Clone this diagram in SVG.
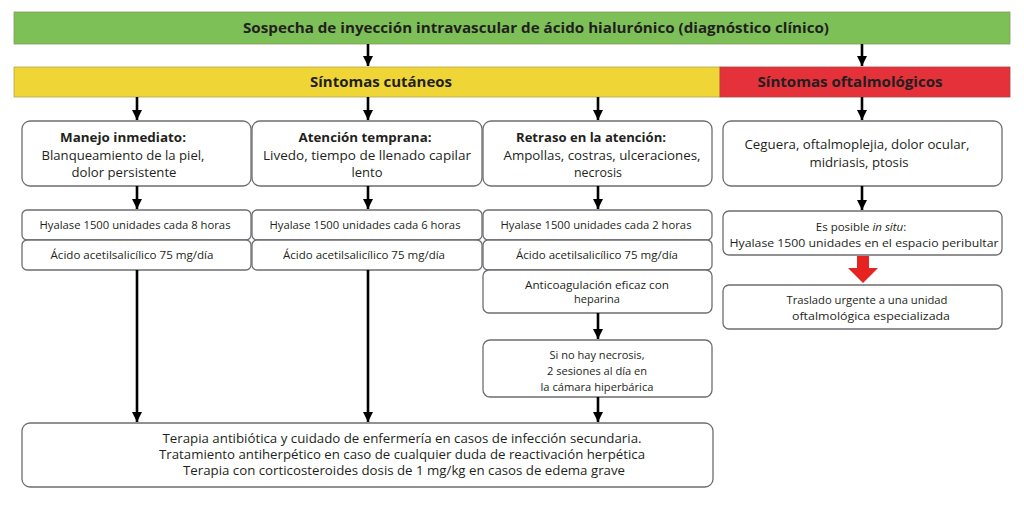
<svg xmlns="http://www.w3.org/2000/svg" width="1024" height="509" viewBox="0 0 1024 509">
<style>
  text { font-family: "Open Sans", "Liberation Sans", sans-serif; fill: #231f20; text-anchor: middle; }
  .hdr { font-weight: bold; font-size: 15px; }
  .bh { font-weight: bold; font-size: 13px; }
  .bt { font-size: 13px; }
  .st { font-size: 11.5px; }
  .box { fill: #ffffff; stroke: #6d6e71; stroke-width: 1.3; }
  .conn line { stroke: #000; stroke-width: 2.6; marker-end: url(#ah); }
</style>
<defs>
  <marker id="ah" markerUnits="userSpaceOnUse" markerWidth="11" markerHeight="10" refX="10" refY="5" orient="auto">
    <path d="M0,0 L10,5 L0,10 z" fill="#000"/>
  </marker>
</defs>
<rect width="1024" height="509" fill="#ffffff"/>

<g id="n-title">
  <rect x="14" y="12" width="996" height="32" fill="#7cc057" stroke="#8a9a5b" stroke-width="0.8"/>
  <text class="hdr" x="536" y="33" textLength="586" lengthAdjust="spacingAndGlyphs">Sospecha de inyección intravascular de ácido hialurónico (diagnóstico clínico)</text>
</g>

<g id="n-cutaneos">
  <rect x="14" y="67" width="706" height="30" fill="#efd535" stroke="#b7a64a" stroke-width="0.8"/>
  <text class="hdr" x="381" y="87" textLength="142" lengthAdjust="spacingAndGlyphs">Síntomas cutáneos</text>
</g>

<g id="n-oftalmo">
  <rect x="720" y="67" width="290" height="30" fill="#e5323a" stroke="#b04040" stroke-width="0.8"/>
  <text class="hdr" x="850" y="87" textLength="185" lengthAdjust="spacingAndGlyphs">Síntomas oftalmológicos</text>
</g>

<g id="n-manejo">
  <rect class="box" x="22" y="121" width="229" height="65" rx="8"/>
  <text class="bh" x="123" y="142" textLength="126" lengthAdjust="spacingAndGlyphs">Manejo inmediato:</text>
  <text class="bt" x="123" y="160" textLength="163" lengthAdjust="spacingAndGlyphs">Blanqueamiento de la piel,</text>
  <text class="bt" x="124" y="177" textLength="105" lengthAdjust="spacingAndGlyphs">dolor persistente</text>
</g>

<g id="n-temprana">
  <rect class="box" x="252" y="121" width="230" height="65" rx="8"/>
  <text class="bh" x="365" y="142" textLength="133" lengthAdjust="spacingAndGlyphs">Atención temprana:</text>
  <text class="bt" x="367" y="160" textLength="208" lengthAdjust="spacingAndGlyphs">Livedo, tiempo de llenado capilar</text>
  <text class="bt" x="367" y="177" textLength="31" lengthAdjust="spacingAndGlyphs">lento</text>
</g>

<g id="n-retraso">
  <rect class="box" x="483" y="121" width="229" height="65" rx="8"/>
  <text class="bh" x="591" y="142" textLength="150" lengthAdjust="spacingAndGlyphs">Retraso en la atención:</text>
  <text class="bt" x="602" y="160" textLength="197" lengthAdjust="spacingAndGlyphs">Ampollas, costras, ulceraciones,</text>
  <text class="bt" x="598" y="177" textLength="48" lengthAdjust="spacingAndGlyphs">necrosis</text>
</g>

<g id="n-ceguera">
  <rect class="box" x="723" y="121" width="279" height="65" rx="8"/>
  <text class="bt" x="857" y="149" textLength="225" lengthAdjust="spacingAndGlyphs">Ceguera, oftalmoplejia, dolor ocular,</text>
  <text class="bt" x="859" y="167" textLength="99" lengthAdjust="spacingAndGlyphs">midriasis, ptosis</text>
</g>

<g id="n-hy8">
  <rect class="box" x="22" y="210" width="229" height="30" rx="5"/>
  <text class="st" x="135" y="229" textLength="191" lengthAdjust="spacingAndGlyphs">Hyalase 1500 unidades cada 8 horas</text>
</g>
<g id="n-ac1">
  <rect class="box" x="22" y="240" width="229" height="30" rx="5"/>
  <text class="st" x="132" y="259" textLength="163" lengthAdjust="spacingAndGlyphs">Ácido acetilsalicílico 75 mg/día</text>
</g>

<g id="n-hy6">
  <rect class="box" x="252" y="210" width="230" height="30" rx="5"/>
  <text class="st" x="365" y="229" textLength="191" lengthAdjust="spacingAndGlyphs">Hyalase 1500 unidades cada 6 horas</text>
</g>
<g id="n-ac2">
  <rect class="box" x="252" y="240" width="230" height="30" rx="5"/>
  <text class="st" x="364" y="259" textLength="162" lengthAdjust="spacingAndGlyphs">Ácido acetilsalicílico 75 mg/día</text>
</g>

<g id="n-hy2">
  <rect class="box" x="483" y="210" width="229" height="30" rx="5"/>
  <text class="st" x="596" y="229" textLength="191" lengthAdjust="spacingAndGlyphs">Hyalase 1500 unidades cada 2 horas</text>
</g>
<g id="n-ac3">
  <rect class="box" x="483" y="240" width="229" height="30" rx="5"/>
  <text class="st" x="597" y="259" textLength="162" lengthAdjust="spacingAndGlyphs">Ácido acetilsalicílico 75 mg/día</text>
</g>
<g id="n-anticoag">
  <rect class="box" x="483" y="270" width="229" height="43" rx="6"/>
  <text class="st" x="597" y="289" textLength="144" lengthAdjust="spacingAndGlyphs">Anticoagulación eficaz con</text>
  <text class="st" x="597" y="303" textLength="46" lengthAdjust="spacingAndGlyphs">heparina</text>
</g>
<g id="n-hiperbarica">
  <rect class="box" x="483" y="340" width="229" height="57" rx="7"/>
  <text class="st" x="597" y="359" textLength="95" lengthAdjust="spacingAndGlyphs">Si no hay necrosis,</text>
  <text class="st" x="597" y="375" textLength="100" lengthAdjust="spacingAndGlyphs">2 sesiones al día en</text>
  <text class="st" x="597" y="391" textLength="113" lengthAdjust="spacingAndGlyphs">la cámara hiperbárica</text>
</g>

<g id="n-insitu">
  <rect class="box" x="723" y="211" width="279" height="44" rx="6"/>
  <text class="st" x="861" y="231">Es posible <tspan font-style="italic">in situ</tspan>:</text>
  <text class="st" x="864" y="247" textLength="269" lengthAdjust="spacingAndGlyphs">Hyalase 1500 unidades en el espacio peribultar</text>
</g>
<g id="n-traslado">
  <rect class="box" x="723" y="285" width="279" height="44" rx="6"/>
  <text class="st" x="867" y="304" textLength="161" lengthAdjust="spacingAndGlyphs">Traslado urgente a una unidad</text>
  <text class="st" x="871" y="320" textLength="158" lengthAdjust="spacingAndGlyphs">oftalmológica especializada</text>
</g>

<g id="n-terapia">
  <rect class="box" x="22" y="423" width="691" height="64" rx="8"/>
  <text class="bt" x="402" y="443" textLength="479" lengthAdjust="spacingAndGlyphs">Terapia antibiótica y cuidado de enfermería en casos de infección secundaria.</text>
  <text class="bt" x="402" y="459" textLength="486" lengthAdjust="spacingAndGlyphs">Tratamiento antiherpético en caso de cualquier duda de reactivación herpética</text>
  <text class="bt" x="404" y="475" textLength="442" lengthAdjust="spacingAndGlyphs">Terapia con corticosteroides dosis de 1 mg/kg en casos de edema grave</text>
</g>

<g id="connectors" class="conn">
  <line x1="368" y1="44" x2="368" y2="66"/>
  <line x1="862" y1="44" x2="862" y2="66"/>
  <line x1="137" y1="97" x2="137" y2="120"/>
  <line x1="368" y1="97" x2="368" y2="120"/>
  <line x1="598" y1="97" x2="598" y2="120"/>
  <line x1="862" y1="97" x2="862" y2="120"/>
  <line x1="137" y1="186" x2="137" y2="209"/>
  <line x1="368" y1="186" x2="368" y2="209"/>
  <line x1="598" y1="186" x2="598" y2="209"/>
  <line x1="862" y1="186" x2="862" y2="210"/>
  <line x1="598" y1="313" x2="598" y2="339"/>
  <line x1="137" y1="270" x2="137" y2="422"/>
  <line x1="368" y1="270" x2="368" y2="422"/>
  <line x1="598" y1="397" x2="598" y2="422"/>
  <path d="M857,256 L869,256 L869,268 L878,268 L863,283 L848,268 L857,268 z" fill="#e52421"/>
</g>
</svg>
